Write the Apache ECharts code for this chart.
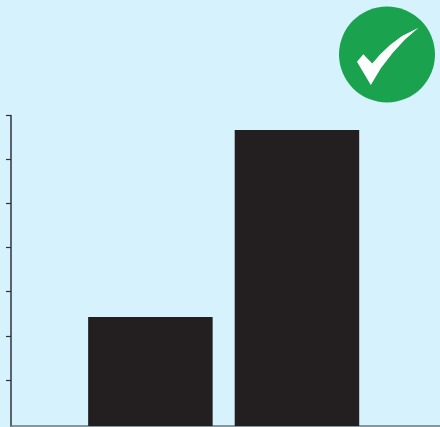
<!DOCTYPE html>
<html><head><meta charset="utf-8">
<style>html,body{margin:0;padding:0;background:#d5f2fd}#c{width:440px;height:427px}</style>
<script src="https://cdn.jsdelivr.net/npm/echarts@6/dist/echarts.min.js"></script>
</head><body><div id="c"></div>
<script>
const barPositions = [0.952, 1.953];
const barValues = [2.46, 6.68];
const yTickValues = [1.03, 2.035, 3.04, 4.03, 5.03, 6.02, 7];
const yMax = 7;
const chart = echarts.init(document.getElementById('c'), null, {renderer:'canvas'});
chart.setOption({
  animation:false,
  backgroundColor:'#d5f2fd',
  grid:{left:11,right:0,top:115.7,bottom:1},
  xAxis:{type:'value',min:0,max:2.93,
    axisLine:{show:true,onZero:false,lineStyle:{color:'#6b7b84',width:1.6}},
    axisTick:{show:false},axisLabel:{show:false},splitLine:{show:false}},
  yAxis:{type:'value',min:0,max:yMax,interval:1,
    axisLine:{show:true,lineStyle:{color:'#58636b',width:2}},
    axisTick:{show:true,length:5,customValues:yTickValues,lineStyle:{color:'#2e3336',width:1.2}},
    axisLabel:{show:false},splitLine:{show:false}},
  series:[{type:'bar',barWidth:124.5,z:5,
    data:barPositions.map((x,i)=>[x,barValues[i]]),
    itemStyle:{color:'#231f20'}}],
  graphic:[
    {type:'circle',shape:{cx:387,cy:54.5,r:48},style:{fill:'#1ba24e'}},
    {type:'polygon',shape:{points:[[357,61.7],[363.3,54.3],[372.3,63.5],[380,54.5],[390,45],[402,36],[418.5,27.7],[405,39.5],[393,52.5],[381,68],[370.8,85]]},style:{fill:'#ffffff'}}
  ]
});
</script></body></html>
